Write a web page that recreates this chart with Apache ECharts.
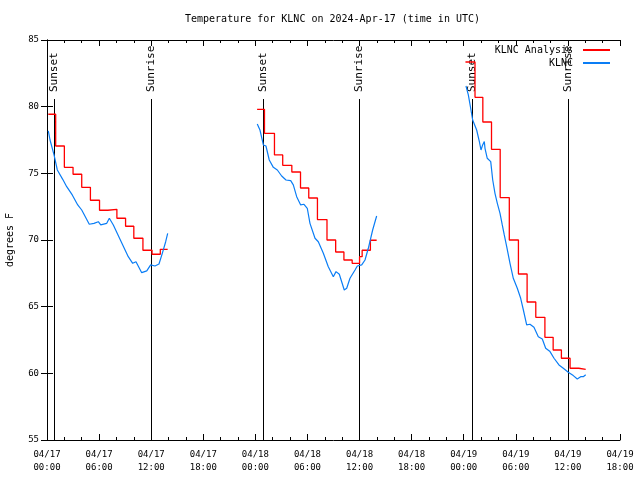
<!DOCTYPE html>
<html>
<head>
<meta charset="utf-8">
<script src="https://cdn.jsdelivr.net/npm/echarts@6/dist/echarts.min.js"></script>
<style>html,body{margin:0;padding:0;background:#fff;}#c{width:640px;height:480px;}</style>
</head>
<body>
<div id="c"></div>
<script>
// Hours since 2024-04-17 00:00 UTC
const analysisHours = [0.15,1.0,2.0,3.0,4.0,5.0,6.05,7.0,8.05,9.05,10.0,11.05,12.1,13.05,13.9,
  24.2,25.05,26.2,27.15,28.2,29.2,30.15,31.15,32.25,33.25,34.2,35.15,36.0,36.3,37.25,37.97,
  48.2,49.3,50.2,51.2,52.2,53.25,54.3,55.3,56.3,57.35,58.3,59.25,60.25,61.25,62.05];
const analysisTemps = [79.43,77.05,75.45,74.93,73.95,72.98,72.23,72.30,71.63,71.03,70.13,69.23,68.93,69.30,null,
  79.8,78.0,76.38,75.6,75.1,73.9,73.15,71.53,70.0,69.1,68.5,68.25,68.75,69.23,69.98,null,
  83.35,80.7,78.85,76.8,73.18,70.0,67.45,65.35,64.2,62.7,61.75,61.13,60.38,60.3,60.3];

const obsHours = [0.15,0.35,0.81,1.19,1.81,2.27,2.91,3.54,4.0,4.87,5.41,5.91,6.19,6.88,7.18,7.64,8.41,9.36,9.87,10.25,10.91,11.49,11.94,12.44,12.9,13.28,13.67,13.9, 19,
  24.22,24.53,24.92,25.22,25.6,26.07,26.53,27.03,27.53,28.07,28.37,28.76,29.22,29.6,29.98,30.29,30.87,31.25,31.83,32.4,32.98,33.29,33.67,34.24,34.52,34.9,35.48,35.74,36.25,36.63,37.01,37.51,37.97, 43,
  48.26,48.53,48.8,49.03,49.49,49.8,49.99,50.18,50.37,50.45,50.71,51.11,51.34,51.6,51.87,52.18,52.44,52.67,52.95,53.33,53.71,54.17,54.56,54.87,55.25,55.63,56.09,56.59,57.05,57.44,57.94,58.4,58.97,59.47,60.04,60.62,61.08,61.47,61.77,62.05];
const obsTemps = [78.18,77.5,76.38,75.25,74.55,74.0,73.38,72.63,72.25,71.18,71.25,71.37,71.13,71.25,71.63,71.13,70.05,68.75,68.25,68.37,67.55,67.68,68.13,68.05,68.2,69.0,69.87,70.5, null,
  78.7,78.25,77.13,77.05,76.0,75.45,75.25,74.8,74.5,74.45,74.13,73.25,72.63,72.68,72.38,71.25,70.13,69.87,69.0,68.0,67.25,67.63,67.43,66.25,66.38,67.13,67.75,68.05,68.13,68.5,69.38,70.75,71.8, null,
  81.55,80.88,79.88,79.0,78.25,77.38,76.75,77.13,77.38,76.88,76.13,75.88,74.5,73.5,72.75,72.0,71.13,70.38,69.5,68.25,67.13,66.38,65.63,64.75,63.63,63.68,63.45,62.75,62.58,61.88,61.63,61.13,60.63,60.38,60.08,59.83,59.58,59.75,59.75,59.9];

const eventHours = [0.81, 11.98, 24.88, 35.94, 48.95, 60.0];
const eventNames = ['Sunset','Sunrise','Sunset','Sunrise','Sunset','Sunrise'];

const xTickLabels = ['04/17\n00:00','04/17\n06:00','04/17\n12:00','04/17\n18:00',
  '04/18\n00:00','04/18\n06:00','04/18\n12:00','04/18\n18:00',
  '04/19\n00:00','04/19\n06:00','04/19\n12:00','04/19\n18:00'];
const yTicks = [55,60,65,70,75,80,85];

const MONO = '"DejaVu Sans Mono", "Liberation Mono", monospace';

function pairs(xs, ys){ return xs.map((x,i)=>[x, ys[i] === null ? '-' : ys[i]]); }

const chart = echarts.init(document.getElementById('c'), null, {renderer:'canvas'});
const axisLine = {show:true, lineStyle:{color:'#000', width:1}};
const option = {
  animation:false,
  backgroundColor:'#fff',
  title:{text:'Temperature for KLNC on 2024-Apr-17 (time in UTC)', left:185, top:14, padding:[0,0,0,0],
    textStyle:{fontFamily:MONO, fontSize:10, fontWeight:'normal', color:'#000'}},
  legend:{orient:'vertical', right:30, top:44, align:'right', itemWidth:27, itemHeight:2, itemGap:1,
    padding:0, icon:'rect', textStyle:{fontFamily:MONO, fontSize:10, color:'#000', padding:[0,5,0,0], lineHeight:12},
    data:['KLNC Analysis','KLNC']},
  grid:{left:47, right:20, top:40, bottom:40, containLabel:false, outerBoundsMode:'none'},
  xAxis:[{type:'value', min:0, max:66, interval:6, position:'bottom',
    axisLine:axisLine, splitLine:{show:false},
    axisTick:{show:true, inside:true, length:6, lineStyle:{color:'#000'}},
    minorTick:{show:true, splitNumber:3, length:3, lineStyle:{color:'#000'}},
    axisLabel:{fontFamily:MONO, fontSize:9, color:'#000', margin:8, lineHeight:13,
      formatter:(v)=>xTickLabels[Math.round(v/6)]}},
   {type:'value', min:0, max:66, interval:6, position:'top',
    axisLine:axisLine, splitLine:{show:false},
    axisTick:{show:true, inside:true, length:6, lineStyle:{color:'#000'}},
    minorTick:{show:true, splitNumber:3, length:3, lineStyle:{color:'#000'}},
    axisLabel:{show:false}}],
  yAxis:[{type:'value', min:55, max:85, interval:5, position:'left',
    name:'degrees F', nameLocation:'middle', nameGap:32, nameRotate:90,
    nameTextStyle:{fontFamily:MONO, fontSize:10, color:'#000'},
    axisLine:axisLine, splitLine:{show:false},
    axisTick:{show:true, inside:true, length:6, lineStyle:{color:'#000'}},
    axisLabel:{fontFamily:MONO, fontSize:9, color:'#000', margin:8,
      formatter:(v)=> yTicks.indexOf(v) >= 0 ? String(v) : ''}},
   {type:'value', min:55, max:85, interval:5, position:'right',
    axisLine:axisLine, splitLine:{show:false},
    axisTick:{show:true, inside:true, length:6, lineStyle:{color:'#000'}},
    axisLabel:{show:false}}],
  series:[
    {type:'custom', name:'events', xAxisIndex:0, yAxisIndex:0, silent:true, clip:false,
     data:eventHours.map(h=>[h]),
     renderItem:function(params, api){
       const h = api.value(0);
       const top = api.coord([h, 80.575]);
       const bot = api.coord([h, 55]);
       const x = Math.round(top[0]) + 0.5;
       return {type:'group', children:[
         {type:'line', shape:{x1:x, y1:Math.round(top[1]), x2:x, y2:bot[1]},
          style:{stroke:'#000', lineWidth:1}},
         {type:'text', x:x, y:top[1]-7, rotation:Math.PI/2,
          style:{text:eventNames[params.dataIndex], fontFamily:MONO, fontSize:11,
            fill:'#000', align:'left', verticalAlign:'middle'}}
       ]};
     }},
    {type:'line', name:'KLNC Analysis', step:'end', symbol:'none', connectNulls:false,
     lineStyle:{color:'#ff0000', width:1.3}, itemStyle:{color:'#ff0000'},
     data:pairs(analysisHours, analysisTemps)},
    {type:'line', name:'KLNC', symbol:'none', connectNulls:false,
     lineStyle:{color:'#0a7df5', width:1.2}, itemStyle:{color:'#0a7df5'},
     data:pairs(obsHours, obsTemps)}
  ]
};
chart.setOption(option);
</script>
</body>
</html>
